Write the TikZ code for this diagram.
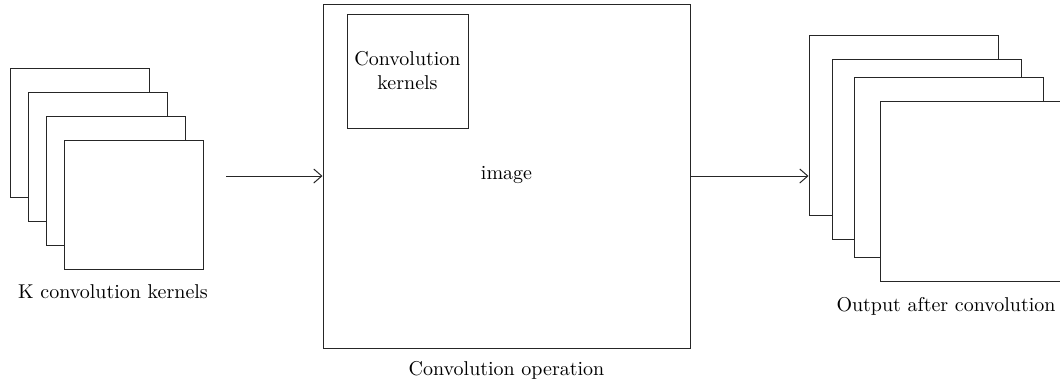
\documentclass[tikz,border=0pt]{standalone}
\usetikzlibrary{
  arrows.meta,
  positioning
}

\begin{document}
\begin{tikzpicture}[
  x=0.5pt, y=-0.5pt,
  sheet/.style={draw=black!85, fill=white, line width=0.5pt, inner sep=0pt},
  kernel sheet/.style={sheet, minimum width=69.5pt, minimum height=64.5pt},
  output sheet/.style={sheet, minimum width=94.5pt, minimum height=90pt},
  flow/.style={draw=black!85, line width=0.5pt, -{Straight Barb[length=4pt, width=7pt]}}
]
\useasboundingbox (0,0) rectangle (1060,387);

% stack of kernels
\foreach \i in {0,...,3}
  \node[kernel sheet] (k\i) at (79.5+18*\i, 132.5+24*\i) {};
\node (klabel) at (113,292) {K convolution kernels};

% image with a kernel on it
\node[sheet, minimum width=183.5pt, minimum height=172pt] (img) at (506.5,176) {};
\node[sheet, minimum width=60.5pt, minimum height=57pt, align=center] (kern)
  at (407.5,71) {Convolution\\kernels};
\node (imglabel) at (506.5,175) {image};
\node (oplabel) at (506.5,370) {Convolution operation};

% stack of feature maps
\foreach \i/\x/\y in {0/809/35, 1/832/59, 2/854/77, 3/880/101}
  \node[output sheet] (o\i) at (\x+94.5, \y+90) {};
\node (olabel) at (946,306) {Output after convolution};

\coordinate (in) at (226,176);
\draw[flow] (in) -- (img.west);
\draw[flow] (img.east) -- (img.east -| o0.west);
\end{tikzpicture}
\end{document}
